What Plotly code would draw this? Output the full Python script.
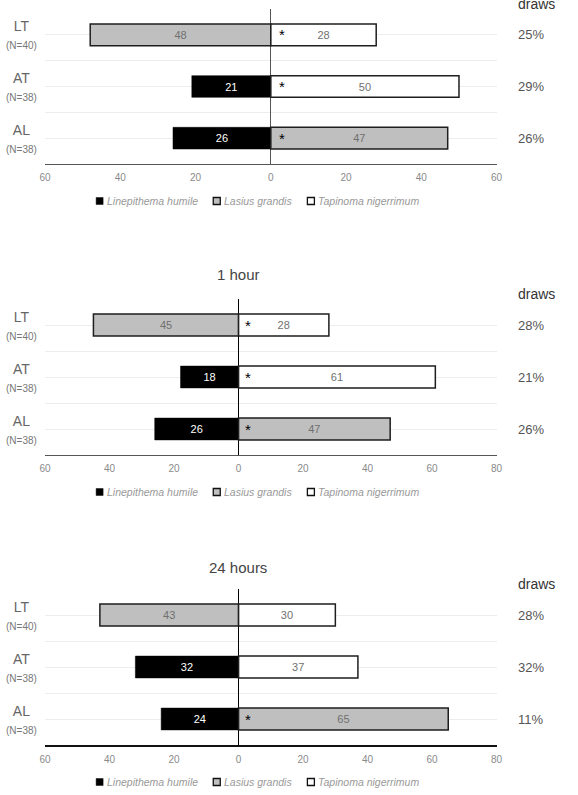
import plotly.graph_objects as go

# ---------------- data ----------------
rows = ["LT", "AT", "AL"]
n_labels = ["(N=40)", "(N=38)", "(N=38)"]
species = ["Linepithema humile", "Lasius grandis", "Tapinoma nigerrimum"]
left_species = ["Lasius grandis", "Linepithema humile", "Linepithema humile"]
right_species = ["Tapinoma nigerrimum", "Tapinoma nigerrimum", "Lasius grandis"]

panel_titles = ["", "1 hour", "24 hours"]
left_values = [[48, 21, 26], [45, 18, 26], [43, 32, 24]]
right_values = [[28, 50, 47], [28, 61, 47], [30, 37, 65]]
draws_pct = [[25, 29, 26], [28, 21, 26], [28, 32, 11]]
stars = [[True, True, True], [True, True, True], [False, False, True]]
x_ranges = [[-60, 60], [-60, 80], [-60, 80]]
tick_values = [[-60, -40, -20, 0, 20, 40, 60], [-60, -40, -20, 0, 20, 40, 60, 80], [-60, -40, -20, 0, 20, 40, 60, 80]]

# ---------------- style ----------------
W, H = 578, 795
fill = {"Linepithema humile": "#000000", "Lasius grandis": "#bfbfbf", "Tapinoma nigerrimum": "#ffffff"}
edge = {"Linepithema humile": "#000000", "Lasius grandis": "#1e1e1e", "Tapinoma nigerrimum": "#1e1e1e"}
txtc = {"Linepithema humile": "#ffffff", "Lasius grandis": "#707070", "Tapinoma nigerrimum": "#707070"}
FONT = "Liberation Sans, Arial, sans-serif"

# horizontal compensation for the rendering (observed ~0.978 scale, +6px shift)
def px_x(x):
    return ((x - 6.0) / 0.978) / W

def px_y(y):
    return 1 - y / H

panels_px = [(9, 164), (299, 455), (589, 745)]
legend_px = [201, 492, 782]
title_px = [None, 275, 567]
x0_px, x1_px = 45, 496
legend_sq_x = [96, 213, 307]
SQ = 7

fig = go.Figure()
ypos = list(range(len(rows)))[::-1]  # LT top -> AL bottom
annotations = []
shapes = []

for p in range(3):
    xa = "x" if p == 0 else f"x{p+1}"
    ya = "y" if p == 0 else f"y{p+1}"
    for sp in species:
        xs, texts, ys = [], [], []
        for i, r in enumerate(rows):
            if left_species[i] == sp:
                xs.append(-left_values[p][i]); texts.append(str(left_values[p][i])); ys.append(ypos[i])
            if right_species[i] == sp:
                xs.append(right_values[p][i]); texts.append(str(right_values[p][i])); ys.append(ypos[i])
        fig.add_trace(go.Bar(
            x=xs, y=ys, orientation="h", name=sp, text=texts,
            texttemplate="%{text}", textposition="inside", insidetextanchor="middle",
            textfont=dict(color=txtc[sp], size=11, family=FONT), textangle=0,
            marker=dict(color=fill[sp], line=dict(color=edge[sp], width=1.5 if sp != "Linepithema humile" else 0.5)),
            width=0.42, xaxis=xa, yaxis=ya, showlegend=False,
        ))
    top, bot = panels_px[p]
    dom = [px_y(bot), px_y(top)]
    fig.update_layout(**{
        ("xaxis" if p == 0 else f"xaxis{p+1}"): dict(
            domain=[px_x(x0_px), px_x(x1_px)], anchor=ya, range=x_ranges[p],
            tickvals=tick_values[p], ticktext=[str(abs(v)) for v in tick_values[p]],
            tickfont=dict(size=10, color="#8a8a8a", family=FONT),
            showgrid=False, zeroline=True, zerolinecolor="#555555" if p == 0 else "#000000", zerolinewidth=1,
            showline=True, linecolor="#111111" if p == 2 else "#555555", linewidth=2 if p == 2 else 1.2,
            ticks="outside", ticklen=4, tickcolor="rgba(0,0,0,0)", fixedrange=True,
        ),
        ("yaxis" if p == 0 else f"yaxis{p+1}"): dict(
            domain=dom, anchor=xa, range=[-0.5, 2.5], tickvals=ypos, showticklabels=False,
            showgrid=True, gridcolor="#ededed", gridwidth=1, zeroline=False,
            minor=dict(tickvals=[-0.5, 0.5, 1.5, 2.5], showgrid=True, gridcolor="#ededed", gridwidth=1),
            fixedrange=True,
        ),
    })
    # category labels, draws, stars
    for i, r in enumerate(rows):
        annotations.append(dict(
            x=px_x(21), xref="paper", y=ypos[i], yref=ya, xanchor="center", yanchor="middle",
            text=f"{r}<br><span style='font-size:10px;color:#777777'>{n_labels[i]}</span>", showarrow=False,
            align="center", font=dict(size=14, color="#666666", family=FONT),
        ))
        annotations.append(dict(
            x=px_x(515), xref="paper", y=ypos[i], yref=ya, xanchor="left", yanchor="middle",
            text=f"{draws_pct[p][i]}%", showarrow=False, font=dict(size=13, color="#555555", family=FONT),
        ))
        if stars[p][i]:
            annotations.append(dict(
                x=3, xref=xa, y=ypos[i], yref=ya, xanchor="center", yanchor="middle",
                text="*", showarrow=False, font=dict(size=15, color="#000000", family=FONT),
            ))
    annotations.append(dict(
        x=px_x(515), xref="paper", y=px_y(top - 5), yref="paper", xanchor="left", yanchor="middle",
        text="draws", showarrow=False, font=dict(size=14, color="#333333", family=FONT),
    ))
    if title_px[p] is not None:
        annotations.append(dict(
            x=px_x(238), xref="paper", y=px_y(title_px[p]), yref="paper", xanchor="center", yanchor="middle",
            text=panel_titles[p], showarrow=False, font=dict(size=15, color="#444444", family=FONT),
        ))
    # legend (squares + italic names)
    ly = legend_px[p]
    for k, sp in enumerate(species):
        sx = legend_sq_x[k]
        shapes.append(dict(
            type="rect", xref="paper", yref="paper",
            x0=px_x(sx), x1=px_x(sx + SQ), y0=px_y(ly + SQ / 2), y1=px_y(ly - SQ / 2),
            fillcolor=fill[sp], line=dict(color="#111111", width=1.3 if k > 0 else 0.5),
        ))
        annotations.append(dict(
            x=px_x(sx + SQ + 2), xref="paper", y=px_y(ly), yref="paper", xanchor="left", yanchor="middle",
            text=f"<i>{sp}</i>", showarrow=False, font=dict(size=10.5, color="#999999", family=FONT),
        ))

fig.update_layout(
    width=W, height=H, margin=dict(l=0, r=0, t=0, b=0), autosize=False,
    paper_bgcolor="#ffffff", plot_bgcolor="#ffffff", barmode="relative",
    annotations=annotations, shapes=shapes, font=dict(family=FONT), showlegend=False,
)

fig.write_html("out.html")
